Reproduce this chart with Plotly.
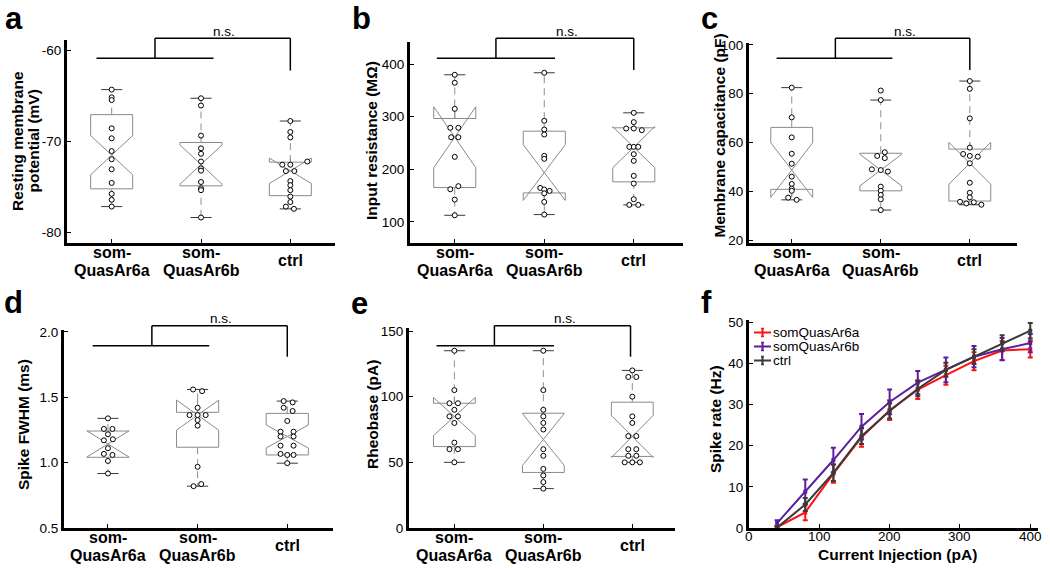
import plotly.graph_objects as go

W, H = 1050, 569
FONT = "Liberation Sans, Arial, Helvetica, sans-serif"


def px(x):
    return x / W


def py(y):
    return 1 - y / H


group_pos = [1, 2, 3]
group_labels = [["som-", "QuasAr6a"], ["som-", "QuasAr6b"], ["ctrl"]]

# ---------------- a: resting membrane potential (mV)
rmp_vals = [
    [-64.35, -65.2, -65.5, -68.6, -69.7, -71.1, -72.0, -73.1, -74.6, -75.8, -76.45, -77.2],
    [-65.3, -66.1, -69.4, -70.8, -71.4, -72.25, -73.0, -73.25, -74.5, -75.2, -75.4, -78.4],
    [-67.8, -69.0, -69.6, -72.25, -72.6, -72.6, -73.3, -73.3, -74.4, -74.85, -75.4, -76.1, -76.7, -77.2, -77.45],
]
rmp_jit = [
    [0, 0, 0, 0, 0, 0, 0, 0, 0, 0, 0, 0],
    [0, 0, 0, 0, 0, 0, 0, 0, 0, 0, 0, 0],
    [0, 0, 0, 0.19, -0.09, 0, -0.05, 0.045, 0, 0, 0, 0, 0, -0.05, 0.04],
]
rmp_q1 = [-75.25, -74.92, -76.0]
rmp_med = [-71.55, -72.58, -73.27]
rmp_q3 = [-67.1, -70.16, -72.32]
rmp_lo = [-77.2, -78.4, -77.45]
rmp_hi = [-64.35, -65.3, -67.8]
rmp_notch = [2.15, 2.15, 1.4]
rmp_ticks = [-80, -70, -60]
rmp_ticktext = ["-80", "-70", "-60"]

# ---------------- b: input resistance (MOhm)
rin_vals = [
    [379.7, 364.5, 315, 278.9, 278.9, 261, 261, 223.7, 168, 162.2, 142.5, 112.7],
    [383.5, 292.2, 275.7, 266.2, 225.6, 219.9, 164.7, 161.6, 159, 154.4, 138.1, 114],
    [307.4, 289.7, 277.6, 277.6, 274.4, 242.7, 242.7, 242.7, 228.8, 216.1, 187.6, 173, 143.2, 132.4, 132.4],
]
rin_jit = [
    [0, 0, 0, -0.05, 0.04, -0.04, 0.04, 0, 0.04, -0.05, 0, 0],
    [0, 0, 0, 0, 0, 0, -0.045, 0, 0.06, 0, 0, 0],
    [0, 0, -0.085, 0, 0.09, -0.05, 0, 0.05, 0, 0, 0, 0, 0, -0.05, 0.05],
]
rin_q1 = [165.4, 155.2, 176.2]
rin_med = [261, 193.9, 242.1]
rin_q3 = [296.6, 272.5, 278.9]
rin_lo = [112.7, 114, 132.4]
rin_hi = [379.7, 383.5, 307.4]
rin_notch = [58, 53, 39]
rin_ticks = [100, 200, 300, 400]
rin_ticktext = ["100", "200", "300", "400"]

# ---------------- c: membrane capacitance (pF)
cm_vals = [
    [82.5, 70.3, 62.1, 55.4, 51.3, 46.0, 43.0, 41.1, 40.2, 37.4, 36.5],
    [81.3, 77.4, 56.0, 54.5, 53.6, 49.0, 48.7, 48.1, 41.9, 40.2, 38.5, 36.7, 32.3],
    [85.2, 82.0, 69.9, 57.9, 55.3, 54.5, 54.2, 51.5, 43.5, 39.4, 37.5, 35.7, 35.0, 35.5, 34.5],
]
cm_jit = [
    [0, 0, 0, 0, 0, 0, 0, 0, 0, -0.04, 0.055],
    [0, 0, 0.045, -0.04, 0.045, -0.1, 0, 0.08, 0, 0, 0, 0, 0],
    [0, 0, 0, 0, -0.075, 0, 0.09, 0, 0, 0, 0, -0.11, -0.04, 0.045, 0.13],
]
cm_q1 = [40.8, 40.2, 36.0]
cm_med = [48.7, 48.7, 51.5]
cm_q3 = [66.2, 55.6, 57.3]
cm_lo = [36.5, 32.3, 34.5]
cm_hi = [82.5, 77.4, 85.2]
cm_notch = [11.2, 6.5, 8.6]
cm_ticks = [20, 40, 60, 80, 100]
cm_ticktext = ["20", "40", "60", "80", "100"]

# ---------------- d: spike FWHM (ms)
fwhm_vals = [
    [1.339, 1.258, 1.258, 1.217, 1.171, 1.179, 1.11, 1.067, 1.059, 1.013, 0.917],
    [1.56, 1.547, 1.42, 1.364, 1.364, 1.364, 1.326, 1.283, 0.968, 0.836, 0.82],
    [1.471, 1.461, 1.42, 1.395, 1.319, 1.237, 1.237, 1.2, 1.2, 1.13, 1.13, 1.067, 1.059, 1.059, 0.996],
]
fwhm_jit = [
    [0, -0.045, 0.05, 0, -0.045, 0.055, 0, -0.045, 0.05, 0, 0],
    [-0.05, 0.05, 0, -0.09, 0, 0.09, 0, 0, 0, 0.04, -0.045],
    [-0.04, 0.06, -0.04, 0.06, 0, -0.075, 0.07, -0.075, 0.07, -0.075, 0.07, -0.075, 0, 0.07, 0],
]
fwhm_q1 = [1.041, 1.118, 1.059]
fwhm_med = [1.143, 1.364, 1.2]
fwhm_q3 = [1.242, 1.385, 1.377]
fwhm_lo = [0.917, 0.82, 0.996]
fwhm_hi = [1.339, 1.56, 1.471]
fwhm_notch = [0.1, 0.115, 0.088]
fwhm_ticks = [0.5, 1.0, 1.5, 2.0]
fwhm_ticktext = ["0.5", "1.0", "1.5", "2.0"]

# ---------------- e: rheobase (pA)
rheo_vals = [
    [135, 105, 95, 95, 90, 85, 85, 80, 65, 60, 60, 50],
    [135, 105, 90, 85, 80, 75, 60, 55, 45, 40, 35, 30],
    [120, 115, 115, 100, 85, 80, 70, 70, 60, 60, 55, 55, 50, 50, 50],
]
rheo_jit = [
    [0, 0, -0.055, 0.04, 0, -0.055, 0.04, 0, 0, -0.055, 0.04, 0],
    [0, 0, 0, 0, 0, 0, 0, 0, 0, 0, 0, 0],
    [0, -0.045, 0.045, 0, 0, 0, -0.045, 0.045, -0.045, 0.045, -0.045, 0.045, -0.085, 0, 0.085],
]
rheo_q1 = [62, 42.3, 54.5]
rheo_med = [84.9, 67.4, 69.7]
rheo_q3 = [95, 87.4, 95.8]
rheo_lo = [50, 30, 50]
rheo_hi = [135, 135, 120]
rheo_notch = [14.5, 19.8, 16]
rheo_ticks = [0, 50, 100, 150]
rheo_ticktext = ["0", "50", "100", "150"]

# ---------------- f: F-I curves
current = [40, 80, 120, 160, 200, 240, 280, 320, 360, 400]
rate_6a = [0.2, 3.8, 13.2, 22.0, 28.6, 33.6, 37.1, 40.5, 43.1, 43.4]
err_6a = [0.3, 1.9, 2.2, 2.3, 2.4, 2.3, 2.3, 2.2, 2.3, 2.0]
rate_6b = [1.2, 8.8, 16.5, 24.6, 30.6, 35.3, 38.4, 41.6, 43.4, 44.9]
err_6b = [0.7, 3.0, 3.0, 3.1, 3.0, 2.8, 3.0, 2.6, 2.7, 2.2]
rate_ctrl = [0.1, 5.7, 13.4, 22.3, 28.4, 33.8, 38.4, 41.6, 44.9, 47.9]
err_ctrl = [0.3, 1.6, 2.0, 1.9, 1.8, 1.8, 1.7, 1.8, 1.9, 1.9]
fi_names = ["somQuasAr6a", "somQuasAr6b", "ctrl"]
fi_colors = ["#ff1010", "#5a1f9e", "#3a3a3a"]
fi_xticks = [0, 100, 200, 300, 400]
fi_yticks = [0, 10, 20, 30, 40, 50]

# ---------------- layout description of the box panels (pixel geometry)
box_panels = [
    dict(letter="a", letter_x=4, letter_top=0, vals=rmp_vals, jit=rmp_jit, q1=rmp_q1, med=rmp_med, q3=rmp_q3,
         lo=rmp_lo, hi=rmp_hi, notch=rmp_notch, ticks=rmp_ticks, ticktext=rmp_ticktext,
         dx=(67, 335), dy=(40, 243), xr=[0.5, 3.5], yr=[-81.2, -58.9],
         title=["Resting membrane", "potential (mV)"], title_x=[17, 32.5], title_y=141,
         br=dict(yl=58.3, yu=38.3, yr=70.5, yt=31.5, x0=0.83, x1=2.14, xm=1.485, xe=3.0, xt=2.26)),
    dict(letter="b", letter_x=351, letter_top=0, vals=rin_vals, jit=rin_jit, q1=rin_q1, med=rin_med, q3=rin_q3,
         lo=rin_lo, hi=rin_hi, notch=rin_notch, ticks=rin_ticks, ticktext=rin_ticktext,
         dx=(410, 683), dy=(42, 243), xr=[0.5, 3.55], yr=[60, 442],
         title=["Input resistance (MΩ)"], title_x=[371], title_y=141,
         br=dict(yl=58.3, yu=38.3, yr=70, yt=31.5, x0=0.8, x1=2.12, xm=1.46, xe=3.0, xt=2.25)),
    dict(letter="c", letter_x=700, letter_top=0, vals=cm_vals, jit=cm_jit, q1=cm_q1, med=cm_med, q3=cm_q3,
         lo=cm_lo, hi=cm_hi, notch=cm_notch, ticks=cm_ticks, ticktext=cm_ticktext,
         dx=(749, 1017), dy=(43, 243), xr=[0.52, 3.53], yr=[18.8, 100.8],
         title=["Membrane capacitance (pF)"], title_x=[718.5], title_y=136,
         br=dict(yl=58.3, yu=38.3, yr=70, yt=31.5, x0=0.83, x1=2.13, xm=1.49, xe=3.0, xt=2.27)),
    dict(letter="d", letter_x=3, letter_top=284, vals=fwhm_vals, jit=fwhm_jit, q1=fwhm_q1, med=fwhm_med, q3=fwhm_q3,
         lo=fwhm_lo, hi=fwhm_hi, notch=fwhm_notch, ticks=fwhm_ticks, ticktext=fwhm_ticktext,
         dx=(64, 333), dy=(330, 528), xr=[0.51, 3.51], yr=[0.5, 2.015],
         title=["Spike FWHM (ms)"], title_x=[23], title_y=425,
         br=dict(yl=345.7, yu=325.7, yr=356.7, yt=318, x0=0.83, x1=2.13, xm=1.49, xe=3.0, xt=2.26)),
    dict(letter="e", letter_x=350, letter_top=285, vals=rheo_vals, jit=rheo_jit, q1=rheo_q1, med=rheo_med, q3=rheo_q3,
         lo=rheo_lo, hi=rheo_hi, notch=rheo_notch, ticks=rheo_ticks, ticktext=rheo_ticktext,
         dx=(409, 675), dy=(328, 528), xr=[0.49, 3.48], yr=[0, 152.3],
         title=["Rheobase (pA)"], title_x=[372], title_y=415,
         br=dict(yl=345.7, yu=325.7, yr=356.7, yt=318, x0=0.8, x1=2.12, xm=1.45, xe=2.98, xt=2.24)),
]

BOX_LINE = "#8a8a8a"
CAP_COLOR = "#3a3a3a"
CAP_HALF = 0.118
AXIS_W = 3
TICK_LEN = 4
TICK_FONT = dict(family=FONT, size=13.5, color="black")
BOLD_LABEL = dict(family=FONT, size=16, color="black", weight="bold")
TITLE_FONT = dict(family=FONT, size=15.5, color="black", weight="bold")
LETTER_FONT = dict(family=FONT, size=31, color="black", weight="bold")

AXIS_STYLE = dict(ticks="inside", ticklen=TICK_LEN, tickwidth=1, tickcolor="black",
                  showline=True, linewidth=AXIS_W, linecolor="black",
                  showgrid=False, zeroline=False, automargin=False)

fig = go.Figure()
annotations = []
shapes = []
axes = {}

for i, p in enumerate(box_panels):
    n = i + 1
    sfx = "" if n == 1 else str(n)
    xa, ya = "x" + sfx, "y" + sfx

    fig.add_trace(go.Box(
        x=group_pos, q1=p["q1"], median=p["med"], q3=p["q3"],
        lowerfence=p["q1"], upperfence=p["q3"], notchspan=p["notch"],
        notched=True, notchwidth=0.5, width=0.47, whiskerwidth=0,
        boxpoints=False, orientation="v",
        line=dict(color=BOX_LINE, width=1), fillcolor="rgba(0,0,0,0)",
        xaxis=xa, yaxis=ya, showlegend=False, hoverinfo="skip"))

    wx, wy, cx, cy = [], [], [], []
    for g, q1, q3, lo, hi in zip(group_pos, p["q1"], p["q3"], p["lo"], p["hi"]):
        wx += [g, g, None, g, g, None]
        wy += [q3, hi, None, q1, lo, None]
        cx += [g - CAP_HALF, g + CAP_HALF, None, g - CAP_HALF, g + CAP_HALF, None]
        cy += [hi, hi, None, lo, lo, None]
    fig.add_trace(go.Scatter(x=wx, y=wy, mode="lines", xaxis=xa, yaxis=ya,
                             line=dict(color="#8f8f8f", width=1, dash="7px,5px"),
                             showlegend=False, hoverinfo="skip"))
    fig.add_trace(go.Scatter(x=cx, y=cy, mode="lines", xaxis=xa, yaxis=ya,
                             line=dict(color=CAP_COLOR, width=1),
                             showlegend=False, hoverinfo="skip"))

    for g, vals, jit in zip(group_pos, p["vals"], p["jit"]):
        fig.add_trace(go.Scatter(
            x=[g + d for d in jit], y=vals, mode="markers", xaxis=xa, yaxis=ya,
            marker=dict(symbol="circle", size=5, color="white",
                        line=dict(color="black", width=1)),
            showlegend=False, hoverinfo="skip"))

    x0, x1 = p["dx"]
    y0, y1 = p["dy"]
    axes["xaxis" + sfx] = dict(
        domain=[px(x0), px(x1)], range=p["xr"], anchor=ya,
        tickvals=group_pos, showticklabels=False, **AXIS_STYLE)
    axes["yaxis" + sfx] = dict(
        domain=[py(y1), py(y0)], range=p["yr"], anchor=xa,
        tickvals=p["ticks"], ticktext=p["ticktext"], tickfont=TICK_FONT, **AXIS_STYLE)

    # category labels
    for g, lines in zip(group_pos, group_labels):
        offs = [9, 27] if len(lines) == 2 else [17]
        for line, o in zip(lines, offs):
            annotations.append(dict(x=g, xref=xa, y=py(y1 + o), yref="paper",
                                    text=line, showarrow=False, font=BOLD_LABEL,
                                    xanchor="center", yanchor="middle"))

    # y title
    for t, tx in zip(p["title"], p["title_x"]):
        annotations.append(dict(x=px(tx), xref="paper", y=py(p["title_y"]), yref="paper",
                                text=t, textangle=-90, showarrow=False, font=TITLE_FONT,
                                xanchor="center", yanchor="middle"))

    # panel letter
    annotations.append(dict(x=px(p["letter_x"]), xref="paper", y=py(p["letter_top"]), yref="paper",
                            text=p["letter"], showarrow=False, font=LETTER_FONT,
                            xanchor="left", yanchor="top", borderpad=0))

    # significance bracket
    b = p["br"]
    seg = [(b["x0"], b["yl"], b["x1"], b["yl"]),
           (b["xm"], b["yl"], b["xm"], b["yu"]),
           (b["xm"], b["yu"], b["xe"], b["yu"]),
           (b["xe"], b["yu"], b["xe"], b["yr"])]
    for sx0, sy0, sx1, sy1 in seg:
        shapes.append(dict(type="line", xref=xa, yref="paper",
                           x0=sx0, x1=sx1, y0=py(sy0), y1=py(sy1),
                           line=dict(color="black", width=1.5)))
    annotations.append(dict(x=b["xt"], xref=xa, y=py(b["yt"]), yref="paper",
                            text="n.s.", showarrow=False,
                            font=dict(family=FONT, size=13.5, color="black"),
                            xanchor="center", yanchor="middle"))

# ---------------- panel f
for name, rate, err, col in zip(fi_names, [rate_6a, rate_6b, rate_ctrl],
                                [err_6a, err_6b, err_ctrl], fi_colors):
    fig.add_trace(go.Scatter(
        x=current, y=rate, name=name, mode="lines+markers", xaxis="x6", yaxis="y6",
        line=dict(color=col, width=2),
        marker=dict(symbol="square", size=4, color=col),
        error_y=dict(type="data", array=err, visible=True, color=col,
                     thickness=2, width=2.5),
        showlegend=False, hoverinfo="skip"))

f_dx, f_dy = (749, 1038), (320, 528)
axes["xaxis6"] = dict(
    domain=[px(f_dx[0]), px(f_dx[1])], range=[0, 411], anchor="y6",
    tickvals=fi_xticks, showticklabels=False, **AXIS_STYLE)
axes["yaxis6"] = dict(
    domain=[py(f_dy[1]), py(f_dy[0])], range=[0, 50.5], anchor="x6",
    tickvals=fi_yticks, tickfont=TICK_FONT, **AXIS_STYLE)

# x tick labels of panel f, placed just under the axis
for t in fi_xticks:
    annotations.append(dict(x=t, xref="x6", y=py(536.5), yref="paper", text=str(t),
                            showarrow=False, font=TICK_FONT,
                            xanchor="center", yanchor="middle"))

annotations.append(dict(x=px(897), xref="paper", y=py(554), yref="paper",
                        text="Current Injection (pA)", showarrow=False, font=TITLE_FONT,
                        xanchor="center", yanchor="middle"))
annotations.append(dict(x=px(715), xref="paper", y=py(419), yref="paper",
                        text="Spike rate (Hz)", textangle=-90, showarrow=False,
                        font=TITLE_FONT, xanchor="center", yanchor="middle"))
annotations.append(dict(x=px(700), xref="paper", y=py(284), yref="paper",
                        text="f", showarrow=False, font=LETTER_FONT,
                        xanchor="left", yanchor="top", borderpad=0))

# manual legend for panel f
legend_rows = [332.5, 346.5, 360.5]
for name, col, ry in zip(fi_names, fi_colors, legend_rows):
    shapes.append(dict(type="line", xref="paper", yref="paper", x0=px(754), x1=px(771),
                       y0=py(ry), y1=py(ry), line=dict(color=col, width=2)))
    shapes.append(dict(type="line", xref="paper", yref="paper", x0=px(762.5), x1=px(762.5),
                       y0=py(ry - 4), y1=py(ry + 4), line=dict(color=col, width=2)))
    for cyy in (ry - 4, ry + 4):
        shapes.append(dict(type="line", xref="paper", yref="paper", x0=px(761), x1=px(764),
                           y0=py(cyy), y1=py(cyy), line=dict(color=col, width=1.5)))
    annotations.append(dict(x=px(772), xref="paper", y=py(ry), yref="paper",
                            text=name, showarrow=False, borderpad=0,
                            font=dict(family=FONT, size=13.5, color="black"),
                            xanchor="left", yanchor="middle"))

fig.update_layout(
    width=W, height=H, margin=dict(l=0, r=0, t=0, b=0, autoexpand=False),
    paper_bgcolor="white", plot_bgcolor="white",
    font=dict(family=FONT, color="black"),
    annotations=annotations, shapes=shapes, showlegend=False,
    **axes)

fig.write_html("out.html", config={"displayModeBar": False},
               post_script="document.body.style.margin='0px';document.body.style.overflow='hidden';")
